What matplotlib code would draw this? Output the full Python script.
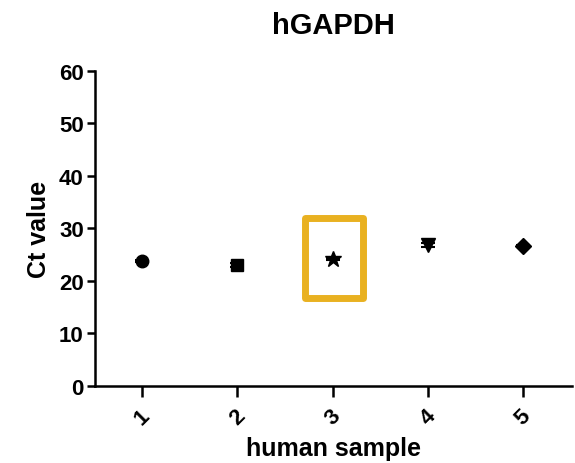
import numpy as np
import matplotlib
matplotlib.use("Agg")
import matplotlib.pyplot as plt
from matplotlib.patches import Rectangle

plt.rcParams['font.family'] = ['Liberation Sans', 'DejaVu Sans']
plt.rcParams['font.weight'] = 'bold'

samples = [1, 2, 3, 4, 5]
ct_mean = [23.8, 23.1, 24.2, 26.9, 26.7]
ct_err = [0.2, 0.35, 0.2, 0.35, 0.15]
markers = ['o', 's', '*', 'v', 'D']
msizes = [9, 9, 12, 10, 8]

fig = plt.figure(figsize=(5.75, 4.64), dpi=100)
ax = fig.add_axes([0.165, 0.166, 0.83, 0.679])

for x, y, e, m, s in zip(samples, ct_mean, ct_err, markers, msizes):
    ax.errorbar(x, y, yerr=e, fmt=m, color='black', markersize=s,
                capsize=5, elinewidth=1.5, capthick=1.5)

# highlight box around sample 3
ax.add_patch(Rectangle((2.71, 16.7), 0.61, 15.2, fill=False,
                       edgecolor='#E9B121', linewidth=5, joinstyle='round'))

ax.set_xlim(0.5, 5.52)
ax.set_ylim(0, 60)
ax.set_xticks(samples)
ax.set_xticklabels([str(s) for s in samples], rotation=45, fontsize=16,
                   fontweight='bold')
ax.set_yticks(np.arange(0, 61, 10))
ax.tick_params(axis='y', labelsize=16, width=1.8, length=6, pad=2)
ax.tick_params(axis='x', width=1.8, length=8, pad=6)
for lab in ax.get_yticklabels():
    lab.set_fontweight('bold')

for side in ['top', 'right']:
    ax.spines[side].set_visible(False)
for side in ['left', 'bottom']:
    ax.spines[side].set_linewidth(1.8)

ax.set_xlabel('human sample', fontsize=18, fontweight='bold', labelpad=5)
ax.set_ylabel('Ct value', fontsize=18, fontweight='bold', labelpad=6)
ax.set_title('hGAPDH', fontsize=21, fontweight='bold', pad=27)

fig.savefig('out.png', dpi=100)
